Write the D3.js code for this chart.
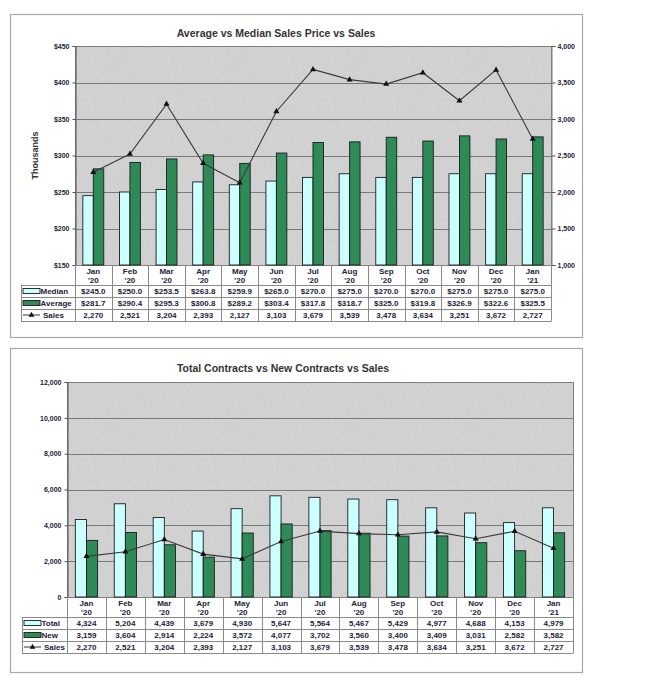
<!DOCTYPE html>
<html><head><meta charset="utf-8">
<script src="https://cdn.jsdelivr.net/npm/d3@7"></script>
<style>
body{margin:0;background:#fff}
svg{display:block}
text{font-family:"Liberation Sans",Arial,sans-serif}
</style></head>
<body>
<svg id="c" width="665" height="690"></svg>
<script>
// ---------- DATA ----------
const categories = ["Jan '20","Feb '20","Mar '20","Apr '20","May '20","Jun '20","Jul '20","Aug '20","Sep '20","Oct '20","Nov '20","Dec '20","Jan '21"];
const medianPrice = [245.0,250.0,253.5,263.8,259.9,265.0,270.0,275.0,270.0,270.0,275.0,275.0,275.0];
const averagePrice = [281.7,290.4,295.3,300.8,289.2,303.4,317.8,318.7,325.0,319.8,326.9,322.6,325.5];
const sales = [2270,2521,3204,2393,2127,3103,3679,3539,3478,3634,3251,3672,2727];
const totalContracts = [4324,5204,4439,3679,4930,5647,5564,5467,5429,4977,4688,4153,4979];
const newContracts = [3159,3604,2914,2224,3572,4077,3702,3560,3400,3409,3031,2582,3582];
const priceTicks = [150,200,250,300,350,400,450];
const salesTicks = [1000,1500,2000,2500,3000,3500,4000];
const contractTicks = [0,2000,4000,6000,8000,10000,12000];

const svg = d3.select("#c");
const TXT = "#23233a";
const LIGHT = "#ccffff", GREEN = "#2e8b57";
const TFS = 8, AFS = 7;

function drawChart(cfg){
  const g = svg.append("g");
  const F = cfg.frame, P = cfg.plot;
  g.append("rect").attr("x",F.x+0.5).attr("y",F.y+0.5).attr("width",F.w).attr("height",F.h)
    .attr("fill","#fff").attr("stroke","#a8a8a8").attr("stroke-width",1.2);
  g.append("text").attr("x",cfg.titleX).attr("y",cfg.titleY).attr("text-anchor","middle")
    .attr("font-size",10.5).attr("font-weight","bold").attr("fill","#333").text(cfg.title);

  const x = d3.scaleBand().domain(categories).range([P.l,P.r]);
  const bw = x.bandwidth(), gw = bw/1.75;
  const y = d3.scaleLinear().domain(cfg.yDomain).range([P.b,P.t]);
  const y2 = cfg.y2Domain ? d3.scaleLinear().domain(cfg.y2Domain).range([P.b,P.t]) : y;

  g.append("rect").attr("x",P.l).attr("y",P.t).attr("width",P.r-P.l).attr("height",P.b-P.t)
    .attr("fill","#d5d5d5");
  g.append("rect").attr("x",P.l).attr("y",P.t).attr("width",P.r-P.l).attr("height",P.b-P.t)
    .attr("fill","url(#noise)").attr("opacity",0.3);
  g.selectAll(".grid").data(cfg.yTicks).join("line")
    .attr("x1",P.l).attr("x2",P.r).attr("y1",d=>Math.round(y(d))+0.5).attr("y2",d=>Math.round(y(d))+0.5)
    .attr("stroke","#7a7a7a").attr("stroke-width",1);
  g.append("rect").attr("x",P.l+0.5).attr("y",P.t+0.5).attr("width",P.r-P.l).attr("height",P.b-P.t)
    .attr("fill","none").attr("stroke","#808080");

  // bars
  cfg.series.forEach((s,i)=>{
    g.selectAll(null).data(s.values).join("rect")
      .attr("x",(d,j)=>x(categories[j])+(bw-gw)/2+i*gw/2)
      .attr("y",d=>y(d))
      .attr("width",gw/2)
      .attr("height",d=>P.b-y(d))
      .attr("fill",s.color).attr("stroke","#1c1c1c").attr("stroke-width",0.9);
  });

  // sales line
  const line = d3.line().x((d,j)=>x(categories[j])+bw/2).y(d=>y2(d));
  g.append("path").datum(sales).attr("d",line).attr("fill","none").attr("stroke","#3a3a3a").attr("stroke-width",1.1);
  g.selectAll(null).data(sales).join("path")
    .attr("transform",(d,j)=>`translate(${x(categories[j])+bw/2},${y2(d)})`)
    .attr("d",d3.symbol(d3.symbolTriangle).size(16)).attr("fill","#111");

  // axes
  const ax = g.append("g").attr("transform",`translate(${P.l+0.5},0)`)
    .call(d3.axisLeft(y).tickValues(cfg.yTicks).tickSize(3).tickPadding(3).tickFormat(cfg.yFormat));
  ax.select(".domain").attr("stroke","#555");
  ax.selectAll(".tick line").attr("stroke","#555");
  ax.selectAll("text").attr("font-size",AFS).attr("font-weight","bold").attr("fill",TXT)
    .attr("font-family","'Liberation Sans',Arial,sans-serif");
  if (cfg.y2Domain){
    const ax2 = g.append("g").attr("transform",`translate(${P.r+0.5},0)`)
      .call(d3.axisRight(y2).tickValues(salesTicks).tickSize(4).tickPadding(2).tickFormat(d3.format(",")));
    ax2.select(".domain").attr("stroke","#808080");
    ax2.selectAll(".tick line").attr("stroke","#555");
    ax2.selectAll("text").attr("font-size",AFS).attr("font-weight","bold").attr("fill",TXT)
      .attr("font-family","'Liberation Sans',Arial,sans-serif");
  }
  if (cfg.yLabel){
    g.append("text").attr("transform",`translate(${cfg.yLabelX},${(P.t+P.b)/2}) rotate(-90)`)
      .attr("text-anchor","middle").attr("font-size",9).attr("font-weight","bold").attr("fill","#333").text(cfg.yLabel);
  }

  // data table
  const hH = 20, rH = 12;
  const T = P.b, L = cfg.legendL;
  const gridC = "#8a8a8a";
  categories.forEach(c=>{
    const [m,yy] = c.split(" ");
    const cx = x(c)+bw/2;
    g.append("text").attr("x",cx).attr("y",T+8.5).attr("text-anchor","middle").attr("font-size",TFS)
      .attr("font-weight","bold").attr("fill",TXT).text(m);
    g.append("text").attr("x",cx).attr("y",T+17.5).attr("text-anchor","middle").attr("font-size",TFS)
      .attr("font-weight","bold").attr("fill",TXT).text(yy);
  });
  const bounds = categories.map(c=>x(c)).concat([P.r]);
  g.selectAll(null).data(bounds).join("line")
    .attr("x1",d=>Math.round(d)+0.5).attr("x2",d=>Math.round(d)+0.5)
    .attr("y1",T).attr("y2",T+hH+3*rH).attr("stroke",gridC);
  g.append("line").attr("x1",L+0.5).attr("x2",L+0.5).attr("y1",T+hH).attr("y2",T+hH+3*rH).attr("stroke",gridC);
  for(let k=0;k<=3;k++){
    g.append("line").attr("x1",L).attr("x2",P.r+0.5).attr("y1",T+hH+k*rH+0.5).attr("y2",T+hH+k*rH+0.5).attr("stroke",gridC);
  }
  const rows = cfg.series.map(s=>({name:s.name,color:s.color,values:s.values,fmt:cfg.seriesFmt,type:"bar"}))
    .concat([{name:"Sales",values:sales,fmt:d3.format(","),type:"line"}]);
  rows.forEach((r,k)=>{
    const cy = T+hH+k*rH+rH/2;
    if (r.type==="bar"){
      g.append("rect").attr("x",L+2).attr("y",cy-2.5).attr("width",17).attr("height",5)
        .attr("fill",r.color).attr("stroke","#1c1c1c").attr("stroke-width",0.9);
    } else {
      g.append("line").attr("x1",L+2).attr("x2",L+19).attr("y1",cy).attr("y2",cy).attr("stroke","#333");
      g.append("path").attr("transform",`translate(${L+10.5},${cy})`).attr("d",d3.symbol(d3.symbolTriangle).size(14)).attr("fill","#111");
    }
    g.append("text").attr("x",r.type==="line"?L+22:L+19.5).attr("y",cy+2.9).attr("font-size",TFS).attr("font-weight","bold")
      .attr("fill",TXT).text(r.name);
    r.values.forEach((v,j)=>{
      g.append("text").attr("x",x(categories[j])+bw/2).attr("y",cy+2.9).attr("text-anchor","middle")
        .attr("font-size",TFS).attr("font-weight","bold").attr("fill",TXT).text(r.fmt(v));
    });
  });
}

// noise pattern for plot texture
const defs = svg.append("defs");
const filt = defs.append("filter").attr("id","nf");
filt.append("feTurbulence").attr("type","fractalNoise").attr("baseFrequency",1.2).attr("numOctaves",1).attr("seed",3);
filt.append("feColorMatrix").attr("type","saturate").attr("values",0);
const pat = defs.append("pattern").attr("id","noise").attr("width",120).attr("height",120).attr("patternUnits","userSpaceOnUse");
pat.append("rect").attr("width",120).attr("height",120).attr("filter","url(#nf)");

drawChart({
  frame:{x:10,y:14,w:572,h:323},
  plot:{l:75,t:46,r:551,b:265},
  title:"Average vs Median Sales Price vs Sales", titleX:276, titleY:37,
  yDomain:[150,450], yTicks:priceTicks, yFormat:d=>"$"+d,
  y2Domain:[1000,4000],
  yLabel:"Thousands", yLabelX:38,
  legendL:21,
  series:[{name:"Median",values:medianPrice,color:LIGHT},{name:"Average",values:averagePrice,color:GREEN}],
  seriesFmt:d3.format("$.1f")
});
drawChart({
  frame:{x:10,y:348,w:572,h:324},
  plot:{l:67,t:382,r:573,b:597},
  title:"Total Contracts vs New Contracts vs Sales", titleX:283, titleY:372,
  yDomain:[0,12000], yTicks:contractTicks, yFormat:d3.format(","),
  legendL:22,
  series:[{name:"Total",values:totalContracts,color:LIGHT},{name:"New",values:newContracts,color:GREEN}],
  seriesFmt:d3.format(",")
});
</script>
</body></html>
